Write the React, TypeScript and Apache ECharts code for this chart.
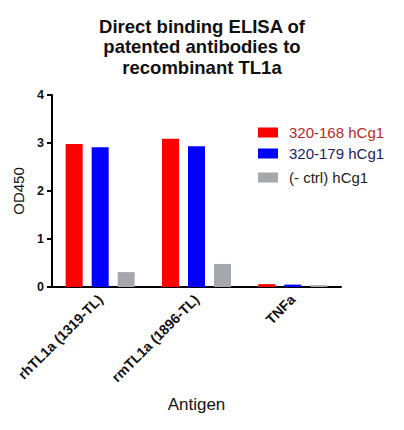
import React, { useEffect, useRef } from "react";
import * as echarts from "echarts";

const CATEGORIES = ["rhTL1a (1319-TL)", "rmTL1a (1896-TL)", "TNFa"];
const SERIES_NAMES = ["320-168 hCg1", "320-179 hCg1", "(- ctrl) hCg1"];
const VALUES_168 = [2.98, 3.09, 0.06];
const VALUES_179 = [2.91, 2.93, 0.05];
const VALUES_CTRL = [0.31, 0.48, 0.04];
const BAR_COLORS = ["#ff0000", "#0000ff", "#a6a6ad"];
const LEGEND_TEXT_COLORS = ["#b8262b", "#1c1c6b", "#222222"];
const LEGEND_TOPS = [120, 141, 165];

export default function App() {
  const chartRef = useRef<HTMLDivElement>(null);

  useEffect(() => {
    if (!chartRef.current) return;
    const chart = echarts.init(chartRef.current, undefined, { renderer: "svg" });
    const values = [VALUES_168, VALUES_179, VALUES_CTRL];

    chart.setOption({
      animation: false,
      backgroundColor: "#ffffff",
      textStyle: { fontFamily: "Liberation Sans, Arial, sans-serif" },
      title: {
        text: "Direct binding ELISA of\npatented antibodies to\nrecombinant TL1a",
        left: 197,
        top: 11,
        textAlign: "center",
        textStyle: { fontSize: 18.5, fontWeight: "bold", color: "#111", lineHeight: 20.5 },
      },
      legend: SERIES_NAMES.map((name, i) => ({
        data: [name],
        left: 253,
        top: LEGEND_TOPS[i],
        itemWidth: 20,
        itemHeight: 10,
        icon: "rect",
        selectedMode: false,
        textStyle: { fontSize: 15, color: LEGEND_TEXT_COLORS[i], padding: [0, 0, 0, 6] },
      })),
      grid: { left: 52, right: 63, top: 95, bottom: 143 },
      xAxis: {
        type: "category",
        data: CATEGORIES,
        name: "Antigen",
        nameLocation: "middle",
        nameGap: 109,
        nameTextStyle: { fontSize: 17, color: "#111" },
        axisLine: { lineStyle: { color: "#000", width: 2 } },
        axisTick: { alignWithLabel: true, length: 5, lineStyle: { color: "#000", width: 2 } },
        axisLabel: { rotate: 45, margin: 10, fontSize: 14, fontWeight: "bold", color: "#111", interval: 0 },
      },
      yAxis: {
        type: "value",
        min: 0,
        max: 4,
        interval: 1,
        name: "OD450",
        nameLocation: "middle",
        nameRotate: 90,
        nameGap: 20,
        nameTextStyle: { fontSize: 15, color: "#111" },
        axisLine: { show: true, lineStyle: { color: "#000", width: 2 } },
        axisTick: { show: true, length: 5, lineStyle: { color: "#000", width: 2 } },
        axisLabel: { fontSize: 12.5, fontWeight: "bold", color: "#111", margin: 8 },
        splitLine: { show: false },
      },
      series: SERIES_NAMES.map((name, i) => ({
        name,
        type: "bar",
        data: values[i],
        barWidth: 17,
        barGap: "53%",
        itemStyle: { color: BAR_COLORS[i] },
      })),
    });

    return () => chart.dispose();
  }, []);

  return (
    <div
      ref={chartRef}
      style={{ position: "fixed", left: 0, top: 0, width: 404, height: 430, background: "#fff" }}
    />
  );
}
